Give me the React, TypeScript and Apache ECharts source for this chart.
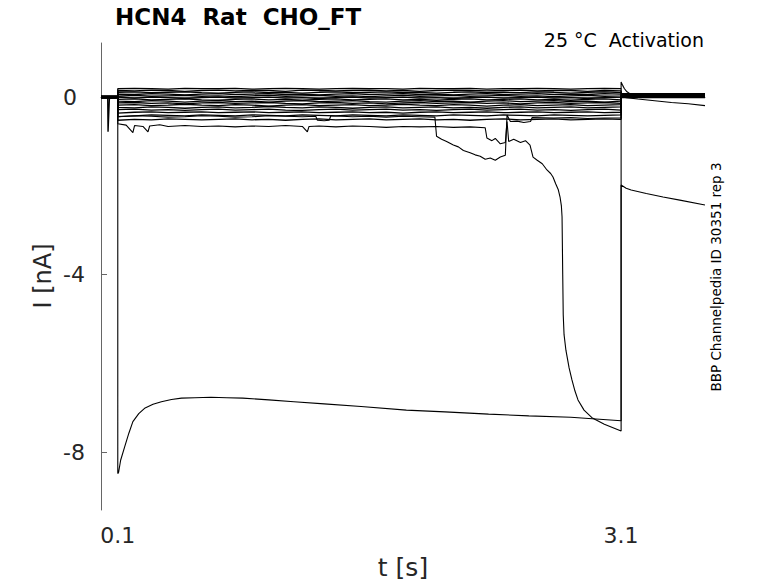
import React, { useEffect, useRef } from "react";
import * as echarts from "echarts";

// Time grid of the step (s)
const stepTimes = [0.1, 0.2, 0.3, 0.4, 0.5, 0.6, 0.7, 0.8, 0.9, 1.0, 1.1, 1.2, 1.3, 1.4, 1.5, 1.6, 1.7, 1.8, 1.9, 2.0, 2.1, 2.2, 2.3, 2.4, 2.5, 2.6, 2.7, 2.8, 2.9, 3.0, 3.1];

// Band of small step currents (nA), one array per sweep
const band1 = [0.19, 0.20, 0.19, 0.18, 0.20, 0.19, 0.19, 0.20, 0.18, 0.19, 0.20, 0.19, 0.18, 0.19, 0.20, 0.19, 0.19, 0.18, 0.20, 0.19, 0.19, 0.20, 0.18, 0.19, 0.19, 0.20, 0.19, 0.18, 0.19, 0.20, 0.19];
const band2 = [0.15, 0.14, 0.16, 0.15, 0.13, 0.15, 0.16, 0.14, 0.15, 0.15, 0.13, 0.16, 0.15, 0.14, 0.15, 0.16, 0.14, 0.15, 0.13, 0.15, 0.16, 0.15, 0.14, 0.15, 0.16, 0.14, 0.15, 0.15, 0.13, 0.15, 0.14];
const band3 = [0.11, 0.12, 0.10, 0.11, 0.12, 0.10, 0.09, 0.11, 0.12, 0.10, 0.11, 0.09, 0.11, 0.12, 0.10, 0.11, 0.12, 0.10, 0.11, 0.09, 0.11, 0.12, 0.10, 0.11, 0.10, 0.12, 0.11, 0.09, 0.11, 0.12, 0.10];
const band4 = [0.07, 0.06, 0.08, 0.07, 0.05, 0.07, 0.08, 0.06, 0.07, 0.08, 0.06, 0.07, 0.05, 0.07, 0.08, 0.06, 0.07, 0.08, 0.06, 0.07, 0.05, 0.07, 0.08, 0.06, 0.07, 0.08, 0.06, 0.07, 0.06, 0.08, 0.07];
const band5 = [0.03, 0.04, 0.02, 0.03, 0.04, 0.02, 0.03, 0.01, 0.03, 0.04, 0.02, 0.03, 0.04, 0.02, 0.03, 0.01, 0.03, 0.04, 0.02, 0.03, 0.04, 0.02, 0.03, 0.04, 0.02, 0.03, 0.01, 0.03, 0.04, 0.02, 0.03];
const band6 = [-0.01, -0.02, 0.00, -0.01, -0.03, -0.01, 0.00, -0.02, -0.01, 0.00, -0.02, -0.01, -0.03, -0.01, 0.00, -0.02, -0.01, 0.00, -0.02, -0.01, -0.03, -0.01, 0.00, -0.02, -0.01, 0.00, -0.02, -0.01, -0.03, -0.01, 0.00];
const band7 = [-0.05, -0.04, -0.06, -0.05, -0.04, -0.06, -0.07, -0.05, -0.04, -0.06, -0.05, -0.07, -0.05, -0.04, -0.06, -0.05, -0.04, -0.06, -0.05, -0.07, -0.05, -0.04, -0.06, -0.05, -0.04, -0.06, -0.05, -0.07, -0.05, -0.04, -0.06];
const band8 = [-0.09, -0.10, -0.08, -0.09, -0.11, -0.09, -0.08, -0.10, -0.09, -0.11, -0.09, -0.08, -0.10, -0.09, -0.08, -0.10, -0.11, -0.09, -0.08, -0.10, -0.09, -0.11, -0.09, -0.08, -0.10, -0.09, -0.08, -0.10, -0.09, -0.11, -0.09];
const band9 = [-0.13, -0.12, -0.14, -0.13, -0.15, -0.13, -0.12, -0.14, -0.13, -0.12, -0.14, -0.15, -0.13, -0.12, -0.14, -0.13, -0.15, -0.13, -0.12, -0.14, -0.13, -0.12, -0.14, -0.13, -0.15, -0.13, -0.12, -0.14, -0.13, -0.12, -0.14];
const band10 = [-0.18, -0.17, -0.19, -0.18, -0.16, -0.18, -0.19, -0.17, -0.18, -0.20, -0.18, -0.17, -0.19, -0.18, -0.17, -0.19, -0.18, -0.16, -0.18, -0.19, -0.17, -0.18, -0.20, -0.18, -0.17, -0.19, -0.18, -0.17, -0.19, -0.18, -0.17];
const band11 = [-0.23, -0.24, -0.22, -0.23, -0.25, -0.23, -0.22, -0.24, -0.23, -0.21, -0.23, -0.24, -0.22, -0.23, -0.25, -0.23, -0.22, -0.24, -0.23, -0.22, -0.24, -0.23, -0.25, -0.23, -0.22, -0.24, -0.23, -0.22, -0.24, -0.23, -0.22];
const band12 = [-0.28, -0.27, -0.29, -0.28, -0.30, -0.28, -0.27, -0.29, -0.28, -0.27, -0.29, -0.30, -0.28, -0.27, -0.29, -0.28, -0.27, -0.29, -0.28, -0.30, -0.28, -0.27, -0.29, -0.28, -0.27, -0.29, -0.28, -0.30, -0.28, -0.27, -0.29];
const band13 = [-0.36, -0.34, -0.33, -0.35, -0.34, -0.33, -0.35, -0.34, -0.33, -0.35, -0.34, -0.33, -0.35, -0.34, -0.33, -0.35, -0.34, -0.36, -0.34, -0.33, -0.35, -0.34, -0.33, -0.35, -0.34, -0.33, -0.35, -0.34, -0.33, -0.35, -0.34];
const band14 = [-0.44, -0.42, -0.40, -0.41, -0.42, -0.40, -0.41, -0.42, -0.40, -0.41, -0.42, -0.40, -0.41, -0.42, -0.40, -0.41, -0.42, -0.40, -0.41, -0.42, -0.40, -0.41, -0.42, -0.40, -0.41, -0.42, -0.40, -0.41, -0.42, -0.41, -0.40];
const band15 = [-0.52, -0.50, -0.51, -0.49, -0.50, -0.51, -0.50, -0.49, -0.51, -0.50, -0.52, -0.50, -0.49, -0.51, -0.50, -0.49, -0.51, -0.50, -0.49, -0.51, -0.50, -0.52, -0.50, -0.49, -0.51, -0.50, -0.49, -0.51, -0.50, -0.49, -0.50];
const bandSweeps = [band1, band2, band3, band4, band5, band6, band7, band8, band9, band10, band11, band12, band13, band14, band15];

// Holding current before the step and tail level after it, per band sweep
const bandPre = [0.02, 0.01, 0.0, -0.01, 0.02, 0.0, -0.02, 0.01, 0.0, -0.01, 0.02, 0.0, -0.02, 0.01, 0.0];
const bandTail = [0.08, 0.07, 0.06, 0.05, 0.05, 0.04, 0.04, 0.03, 0.03, 0.02, 0.02, 0.01, 0.01, 0.0, -0.01];

// Sweep with a test-pulse artefact before the step
const testPulse: [number, number][] = [[0, 0], [0.04, 0], [0.042, -0.78], [0.05, -0.03], [0.1, 0]];

// Tail of the most positive sweep (capacitive overshoot)
const overshootTail: [number, number][] = [[3.1, 0.19], [3.1, 0.34], [3.11, 0.26], [3.12, 0.19], [3.135, 0.12], [3.155, 0.07], [3.18, 0.05], [3.25, 0.04], [3.6, 0.04]];

// Sweep that sags between 2.0 s and 2.4 s
const sweepSag: [number, number][] = [
  [0, 0.01], [0.1, 0.01], [0.1, -0.44], [0.2, -0.42], [0.3, -0.43], [0.4, -0.45], [0.5, -0.44], [0.6, -0.42], [0.7, -0.43], [0.8, -0.45], [0.9, -0.44], [1.0, -0.42], [1.1, -0.43], [1.2, -0.44], [1.28, -0.43],
  [1.29, -0.52], [1.33, -0.53], [1.36, -0.52], [1.37, -0.42], [1.5, -0.44], [1.6, -0.43], [1.7, -0.45], [1.8, -0.43], [1.9, -0.44], [1.99, -0.45],
  [2.0, -0.88], [2.03, -0.95], [2.06, -1.0], [2.1, -1.08], [2.13, -1.12], [2.16, -1.2], [2.2, -1.25], [2.23, -1.3], [2.26, -1.33], [2.29, -1.4], [2.32, -1.37], [2.35, -1.42], [2.38, -1.35], [2.41, -1.31],
  [2.42, -0.40], [2.44, -0.55], [2.48, -0.54], [2.52, -0.57], [2.56, -0.55], [2.57, -0.46], [2.7, -0.47], [2.8, -0.46], [2.9, -0.48], [3.0, -0.47], [3.1, -0.47],
  [3.1, 0.0], [3.6, 0.0],
];

// Sweep that collapses towards the end of the step
const sweepCollapse: [number, number][] = [
  [0, -0.01], [0.1, -0.01], [0.1, -0.6], [0.15, -0.63], [0.19, -0.8], [0.2, -0.64], [0.25, -0.66], [0.28, -0.78], [0.29, -0.65], [0.35, -0.62], [0.4, -0.66], [0.5, -0.64], [0.6, -0.66], [0.7, -0.65], [0.8, -0.67], [0.9, -0.65], [1.0, -0.66], [1.1, -0.64], [1.2, -0.66], [1.23, -0.78], [1.24, -0.66],
  [1.3, -0.65], [1.4, -0.67], [1.5, -0.65], [1.6, -0.66], [1.7, -0.68], [1.8, -0.66], [1.9, -0.67], [2.0, -0.66], [2.1, -0.68], [2.2, -0.67], [2.29, -0.69],
  [2.3, -0.92], [2.33, -0.98], [2.35, -0.93], [2.38, -1.05], [2.41, -1.02], [2.42, -0.55], [2.43, -1.0], [2.46, -0.95], [2.5, -1.02], [2.53, -0.98], [2.557, -1.08],
  [2.575, -1.35], [2.6, -1.42], [2.63, -1.5], [2.658, -1.64], [2.68, -1.72], [2.694, -1.8], [2.71, -1.95], [2.725, -2.08], [2.736, -2.25], [2.744, -2.45], [2.748, -2.7],
  [2.752, -4.0], [2.755, -4.9], [2.76, -5.35], [2.771, -5.7], [2.79, -6.1], [2.807, -6.37], [2.825, -6.62], [2.843, -6.82], [2.879, -7.05], [2.926, -7.22], [3.0, -7.37], [3.1, -7.52],
  [3.1, -1.98], [3.13, -2.05], [3.16, -2.09], [3.25, -2.17], [3.35, -2.25], [3.45, -2.32], [3.6, -2.43],
];

// Largest sweep
const sweepLarge: [number, number][] = [
  [0, 0], [0.1, 0], [0.1, -8.48], [0.105, -8.45], [0.117, -8.18], [0.141, -7.88], [0.166, -7.57], [0.19, -7.31], [0.225, -7.13], [0.263, -7.0], [0.31, -6.92], [0.36, -6.86], [0.42, -6.81], [0.48, -6.78],
  [0.56, -6.77], [0.655, -6.76], [0.75, -6.77], [0.845, -6.78], [1.0, -6.82], [1.15, -6.86], [1.33, -6.91], [1.55, -6.97], [1.82, -7.05], [2.05, -7.09], [2.31, -7.14], [2.55, -7.18], [2.8, -7.21], [2.95, -7.25], [3.1, -7.29],
  [3.1, 0.02], [3.13, -0.01], [3.2, -0.04], [3.3, -0.08], [3.4, -0.12], [3.5, -0.15], [3.6, -0.19],
];

const xTicks = [0.1, 3.1];
const yTicks = [0, -4, -8];

const FONT = "DejaVu Sans";

export default function App() {
  const ref = useRef<HTMLDivElement>(null);

  useEffect(() => {
    if (!ref.current) return;
    const chart = echarts.init(ref.current, undefined, { renderer: "svg" });

    const mk = (data: [number, number][], width = 1.1) => ({
      type: "line",
      data,
      showSymbol: false,
      symbol: "none",
      silent: true,
      lineStyle: { color: "#000", width },
      clip: true,
    });

    const series: any[] = bandSweeps.map((vals, i) => {
      const d: [number, number][] = [[0, bandPre[i]], [0.1, bandPre[i]]];
      stepTimes.forEach((t, k) => d.push([t, vals[k]]));
      d.push([3.1, bandTail[i]]);
      d.push([3.6, bandTail[i]]);
      return mk(d, 1.3);
    });
    series.push(mk(testPulse, 1.4));
    series.push(mk(overshootTail));
    series.push(mk(sweepSag));
    series.push(mk(sweepCollapse));
    series.push(mk(sweepLarge));

    const axisColor = "#666";
    chart.setOption({
      animation: false,
      backgroundColor: "#fff",
      grid: { left: 101, right: 73, top: 43, bottom: 73, containLabel: false },
      xAxis: {
        type: "value",
        min: 0,
        max: 3.6,
        axisLine: { show: true, lineStyle: { color: axisColor, width: 1 } },
        axisTick: { show: true, inside: true, length: 6, customValues: xTicks, lineStyle: { color: axisColor } },
        axisLabel: { show: true, customValues: xTicks, margin: 14, fontFamily: FONT, fontSize: 22, color: "#262626", formatter: (v: number) => v.toFixed(1) },
        splitLine: { show: false },
      },
      yAxis: {
        type: "value",
        min: -9.3,
        max: 1.22,
        axisLine: { show: true, lineStyle: { color: axisColor, width: 1 } },
        axisTick: { show: true, inside: true, length: 6, customValues: yTicks, lineStyle: { color: axisColor } },
        axisLabel: { show: true, customValues: yTicks, margin: 38, align: "left", fontFamily: FONT, fontSize: 22, color: "#262626", formatter: (v: number) => String(v) },
        splitLine: { show: false },
      },
      graphic: [
        { type: "text", left: 115, top: 5, style: { text: "HCN4  Rat  CHO_FT", font: `bold 23px '${FONT}'`, fill: "#000" } },
        { type: "text", x: 704, y: 40, style: { text: "25 °C  Activation", font: `19px '${FONT}'`, fill: "#000", textAlign: "right", textVerticalAlign: "middle" } },
        { type: "text", x: 716, y: 277, rotation: Math.PI / 2, style: { text: "BBP Channelpedia ID 30351 rep 3", font: `13.5px '${FONT}'`, fill: "#000", textAlign: "center", textVerticalAlign: "middle" } },
        { type: "text", x: 43, y: 276, rotation: Math.PI / 2, style: { text: "I [nA]", font: `24px '${FONT}'`, fill: "#262626", textAlign: "center", textVerticalAlign: "middle" } },
        { type: "text", x: 403, y: 567, style: { text: "t [s]", font: `25px '${FONT}'`, fill: "#262626", textAlign: "center", textVerticalAlign: "middle" } },
      ],
      series,
    });

    return () => chart.dispose();
  }, []);

  return <div ref={ref} style={{ position: "fixed", left: 0, top: 0, width: 778, height: 583 }} />;
}
